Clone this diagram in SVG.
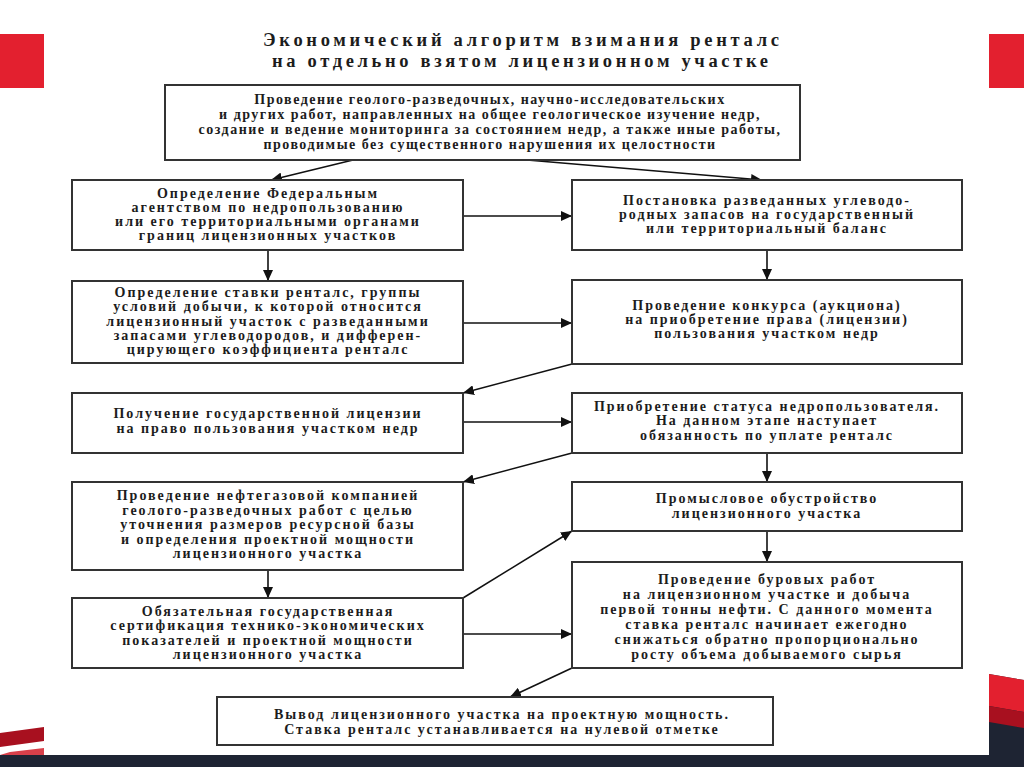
<svg xmlns="http://www.w3.org/2000/svg" width="1024" height="767" viewBox="0 0 1024 767">
<style>
.box{fill:#fff;stroke:#333;stroke-width:2}
.t{font-family:"Liberation Serif","Times New Roman",serif;font-weight:bold;font-size:14px;letter-spacing:2px;fill:#1c1c1c;text-anchor:middle}
.tt{letter-spacing:1.5px}
.title{font-family:"Liberation Serif","Times New Roman",serif;font-weight:bold;font-size:18.5px;fill:#1c1c1c;text-anchor:middle}
.c{stroke:#111;stroke-width:1.6;fill:none;marker-end:url(#ah)}
</style>
<defs>
<marker id="ah" markerUnits="userSpaceOnUse" markerWidth="12" markerHeight="10" refX="11" refY="5" orient="auto">
<path d="M0,0 L11,5 L0,10 Z" fill="#111"/>
</marker>
</defs>
<rect width="1024" height="767" fill="#fff"/>
<g id="decor">
<rect x="0" y="34" width="44" height="54" fill="#e3202f"/>
<rect x="989" y="34" width="35" height="54" fill="#e3202f"/>
<polygon points="989,674 1024,680 1024,767 989,767" fill="#1e2433"/>
<polygon points="989,674 1024,680 1024,712 989,706" fill="#e3202f"/>
<polygon points="989,706 1024,712 1024,728 989,722" fill="#a8101f"/>
<polygon points="0,733 44,727 44,741 0,747" fill="#a8101f"/>
<polygon points="10,752 44,748 44,755 0,755" fill="#d8404a"/>
<rect x="0" y="755" width="1024" height="12" fill="#1e2433"/>
</g>
<g id="title">
<text class="title" x="521" y="46" textLength="516" lengthAdjust="spacing">Экономический алгоритм взимания ренталс</text>
<text class="title" x="520" y="67" textLength="496" lengthAdjust="spacing">на отдельно взятом лицензионном участке</text>
</g>
<g id="connectors">
<line class="c" x1="353" y1="160" x2="271" y2="180"/>
<line class="c" x1="527" y1="160" x2="762" y2="180"/>
<line class="c" x1="463" y1="216" x2="572" y2="216"/>
<line class="c" x1="268" y1="250" x2="268" y2="281"/>
<line class="c" x1="767" y1="250" x2="767" y2="280"/>
<line class="c" x1="463" y1="323" x2="572" y2="323"/>
<line class="c" x1="572" y1="364" x2="463" y2="393"/>
<line class="c" x1="463" y1="422" x2="572" y2="422"/>
<line class="c" x1="572" y1="453" x2="463" y2="482"/>
<line class="c" x1="767" y1="453" x2="767" y2="482"/>
<line class="c" x1="268" y1="570" x2="268" y2="598"/>
<line class="c" x1="463" y1="598" x2="572" y2="531"/>
<line class="c" x1="767" y1="531" x2="767" y2="562"/>
<line class="c" x1="463" y1="634" x2="572" y2="634"/>
<line class="c" x1="572" y1="668" x2="510" y2="697"/>
</g>
<g id="n-top">
<rect class="box" x="165" y="85" width="635" height="75"/>
<text class="t tt" x="490" y="104">Проведение геолого-разведочных, научно-исследовательских</text>
<text class="t tt" x="490" y="119">и других работ, направленных на общее геологическое изучение недр,</text>
<text class="t tt" x="490" y="134">создание и ведение мониторинга за состоянием недр, а также иные работы,</text>
<text class="t tt" x="490" y="149">проводимые без существенного нарушения их целостности</text>
</g>
<g id="n-l1">
<rect class="box" x="72" y="180" width="391" height="70"/>
<text class="t" x="268" y="198">Определение Федеральным</text>
<text class="t" x="268" y="212">агентством по недропользованию</text>
<text class="t" x="268" y="226">или его территориальными органами</text>
<text class="t" x="268" y="240">границ лицензионных участков</text>
</g>
<g id="n-r1">
<rect class="box" x="572" y="180" width="390" height="70"/>
<text class="t" x="767" y="205">Постановка разведанных углеводо-</text>
<text class="t" x="767" y="219">родных запасов на государственный</text>
<text class="t" x="767" y="233">или  территориальный баланс</text>
</g>
<g id="n-l2">
<rect class="box" x="72" y="281" width="391" height="82"/>
<text class="t" x="268" y="297">Определение ставки  ренталс, группы</text>
<text class="t" x="268" y="311">условий добычи, к которой относится</text>
<text class="t" x="268" y="325.5">лицензионный участок с разведанными</text>
<text class="t" x="268" y="340">запасами  углеводородов, и дифферен-</text>
<text class="t" x="268" y="354">цирующего коэффициента ренталс</text>
</g>
<g id="n-r2">
<rect class="box" x="572" y="280" width="390" height="84"/>
<text class="t" x="767" y="310">Проведение конкурса (аукциона)</text>
<text class="t" x="767" y="324">на приобретение права (лицензии)</text>
<text class="t" x="767" y="338">пользования участком недр</text>
</g>
<g id="n-l3">
<rect class="box" x="72" y="393" width="391" height="60"/>
<text class="t" x="268" y="418">Получение государственной лицензии</text>
<text class="t" x="268" y="433">на право пользования участком недр</text>
</g>
<g id="n-r3">
<rect class="box" x="572" y="393" width="390" height="60"/>
<text class="t" x="767" y="411">Приобретение статуса недропользователя.</text>
<text class="t" x="767" y="425">На данном этапе наступает</text>
<text class="t" x="767" y="440">обязанность по уплате ренталс</text>
</g>
<g id="n-l4">
<rect class="box" x="72" y="482" width="391" height="88"/>
<text class="t" x="268" y="500">Проведение нефтегазовой компанией</text>
<text class="t" x="268" y="515">геолого-разведочных работ с целью</text>
<text class="t" x="268" y="529">уточнения размеров ресурсной базы</text>
<text class="t" x="268" y="544">и определения проектной мощности</text>
<text class="t" x="268" y="558">лицензионного участка</text>
</g>
<g id="n-r4">
<rect class="box" x="572" y="482" width="390" height="49"/>
<text class="t" x="767" y="503">Промысловое обустройство</text>
<text class="t" x="767" y="518">лицензионного участка</text>
</g>
<g id="n-l5">
<rect class="box" x="72" y="598" width="391" height="70"/>
<text class="t" x="268" y="616">Обязательная государственная</text>
<text class="t" x="268" y="630">сертификация технико-экономических</text>
<text class="t" x="268" y="645">показателей и проектной мощности</text>
<text class="t" x="268" y="659">лицензионного участка</text>
</g>
<g id="n-r5">
<rect class="box" x="572" y="562" width="390" height="106"/>
<text class="t" x="767" y="584">Проведение буровых работ</text>
<text class="t" x="767" y="599">на лицензионном участке и  добыча</text>
<text class="t" x="767" y="614">первой тонны нефти. С данного момента</text>
<text class="t" x="767" y="629">ставка ренталс начинает ежегодно</text>
<text class="t" x="767" y="644">снижаться обратно пропорционально</text>
<text class="t" x="767" y="659">росту объема добываемого сырья</text>
</g>
<g id="n-bottom">
<rect class="box" x="217" y="697" width="556" height="48"/>
<text class="t" x="502" y="719">Вывод лицензионного участка на проектную мощность.</text>
<text class="t" x="502" y="734">Ставка ренталс устанавливается на нулевой отметке</text>
</g>
</svg>
